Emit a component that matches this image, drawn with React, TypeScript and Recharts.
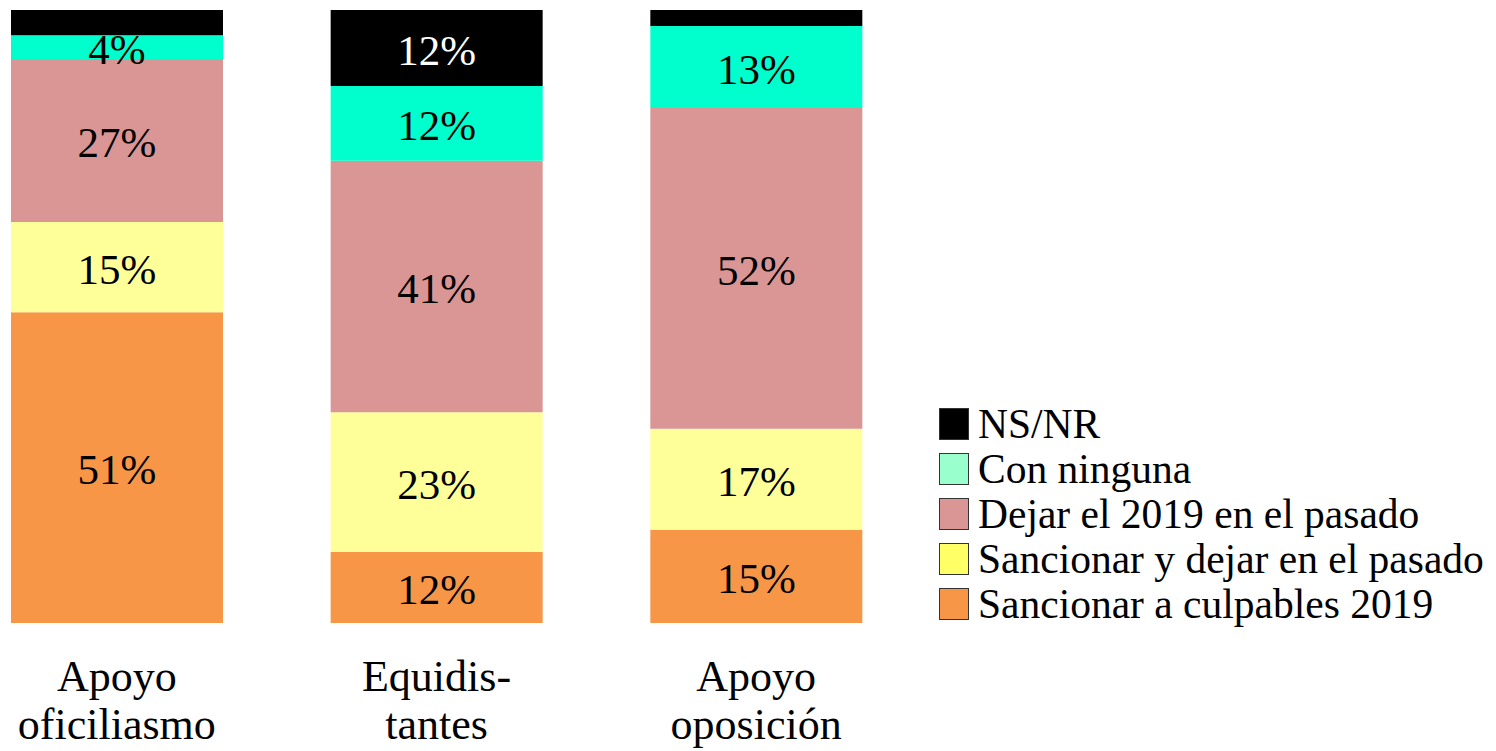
import React from 'react';
import { BarChart, Bar, XAxis, YAxis, LabelList, Legend } from 'recharts';

const categories = ['Apoyo oficiliasmo', 'Equidis- tantes', 'Apoyo oposición'];
const tickLines = [
  ['Apoyo', 'oficiliasmo'],
  ['Equidis-', 'tantes'],
  ['Apoyo', 'oposición'],
];

const culpables = [50.7, 11.6, 15.2];
const sancionarDejar = [14.7, 22.8, 16.5];
const dejarPasado = [26.6, 41.0, 52.3];
const conNinguna = [3.9, 12.2, 13.4];
const nsnr = [4.1, 12.4, 2.6];

const series = [
  { key: 'culpables', name: 'Sancionar a culpables 2019', color: '#F79646', swatch: '#F79646', text: '#000', min: 3.5 },
  { key: 'sancionarDejar', name: 'Sancionar y dejar en el pasado', color: '#FFFF99', swatch: '#FFFF66', text: '#000', min: 3.5 },
  { key: 'dejarPasado', name: 'Dejar el 2019 en el pasado', color: '#D99694', swatch: '#D99694', text: '#000', min: 3.5 },
  { key: 'conNinguna', name: 'Con ninguna', color: '#00FFCC', swatch: '#99FFCC', text: '#000', min: 3.5 },
  { key: 'nsnr', name: 'NS/NR', color: '#000000', swatch: '#000000', text: '#fff', min: 5 },
];

const data = categories.map((c, i) => ({
  category: c,
  culpables: culpables[i],
  sancionarDejar: sancionarDejar[i],
  dejarPasado: dejarPasado[i],
  conNinguna: conNinguna[i],
  nsnr: nsnr[i],
}));

const FONT = '"Liberation Serif", Tinos, "Times New Roman", "DejaVu Serif", serif';

const ValueLabel = (props: any) => {
  const { x, y, width, height, value, textColor, min } = props;
  if (value < min) return null;
  return (
    <text
      x={x + width / 2}
      y={y + height / 2 + 2}
      textAnchor="middle"
      dominantBaseline="central"
      fontFamily={FONT}
      fontSize={43}
      fill={textColor}
    >
      {Math.round(value)}%
    </text>
  );
};

const CategoryTick = (props: any) => {
  const { x, payload } = props;
  const lines = tickLines[payload.index] || [payload.value];
  return (
    <g>
      {lines.map((l: string, i: number) => (
        <text
          key={i}
          x={x}
          y={691 + i * 48}
          textAnchor="middle"
          fontFamily={FONT}
          fontSize={44}
          fill="#000"
        >
          {l}
        </text>
      ))}
    </g>
  );
};

const LegendBox = () => (
  <div style={{ fontFamily: FONT, fontSize: 41.5, color: '#000' }}>
    {[...series].reverse().map((s) => (
      <div key={s.key} style={{ display: 'flex', alignItems: 'center', height: 45, whiteSpace: 'nowrap' }}>
        <span
          style={{
            display: 'inline-block',
            width: 28,
            height: 30,
            background: s.swatch,
            border: '1.5px solid #333',
            marginRight: 9,
            boxSizing: 'content-box',
          }}
        />
        <span>{s.name}</span>
      </div>
    ))}
  </div>
);

export default function App() {
  return (
    <div style={{ position: 'absolute', left: -43, top: 0, width: 1539, height: 751, background: '#fff' }}>
      <BarChart
        width={1539}
        height={751}
        data={data}
        margin={{ top: 10, right: 580, bottom: 0, left: 0 }}
        barSize={212}
      >
        <XAxis
          dataKey="category"
          axisLine={false}
          tickLine={false}
          height={128}
          interval={0}
          tick={<CategoryTick />}
        />
        <YAxis hide domain={[0, 100]} />
        <Legend
          layout="vertical"
          align="center"
          verticalAlign="middle"
          content={<LegendBox />}
          wrapperStyle={{ position: 'absolute', left: 982, top: 401, width: 580 }}
        />
        {series.map((s) => (
          <Bar key={s.key} dataKey={s.key} name={s.name} stackId="a" fill={s.color} isAnimationActive={false}>
            <LabelList dataKey={s.key} content={<ValueLabel textColor={s.text} min={s.min} />} />
          </Bar>
        ))}
      </BarChart>
    </div>
  );
}
